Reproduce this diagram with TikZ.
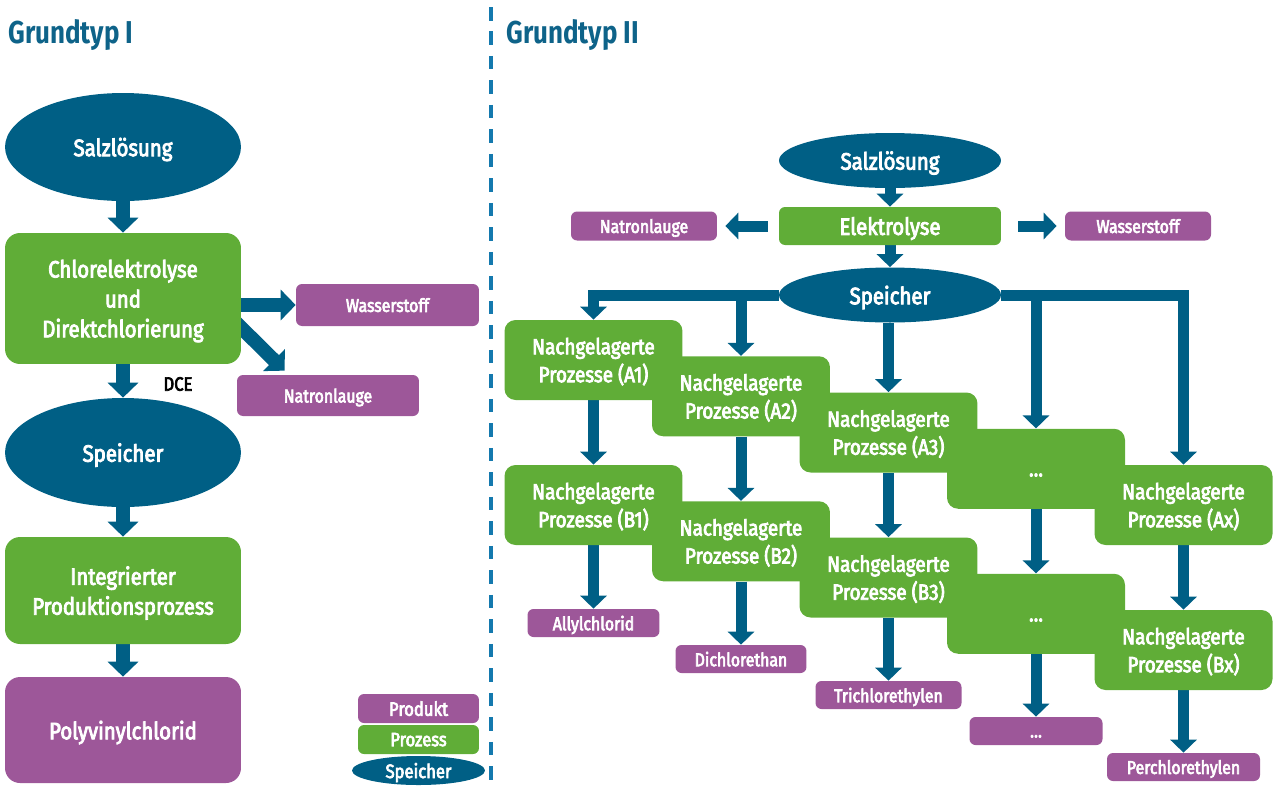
\documentclass[tikz,border=0pt]{standalone}
\usepackage{fontspec}
\setmainfont[FakeStretch=0.82]{Fira Sans}
\newfontfamily\mediumfont[FakeStretch=0.86,FakeBold=3.5]{Fira Sans}
\usetikzlibrary{arrows.meta,shapes.geometric,backgrounds}
\definecolor{petrol}{RGB}{0,95,133}
\definecolor{grass}{RGB}{96,173,55}
\definecolor{plum}{RGB}{157,87,153}
\definecolor{heading}{RGB}{14,99,137}
\definecolor{divider}{RGB}{20,121,174}
\tikzset{
  flow/.style={draw=petrol,line width=0.22cm,line join=miter,
    -{Triangle[width=0.52cm,length=0.26cm]}},
  fat flow/.style={flow,line width=0.28cm,-{Triangle[width=0.6cm,length=0.3cm]}},
  title/.style={font=\fontsize{18}{22}\selectfont\bfseries,text=heading,inner sep=0pt},
  store/.style={ellipse,fill=petrol,text=white,inner sep=0pt,text depth=0pt,
    font=\fontsize{13.5}{17}\selectfont\mediumfont},
  proc/.style={fill=grass,text=white,rounded corners=0.3cm,align=center,text depth=0pt,
    minimum width=4.72cm,font=\fontsize{13.5}{17}\selectfont\mediumfont},
  stepbox/.style={fill=grass,text=white,rounded corners=0.22cm,align=center,text depth=0pt,
    minimum width=3.56cm,minimum height=1.6cm,font=\fontsize{12.5}{15.9}\selectfont\mediumfont},
  prod/.style={fill=plum,text=white,rounded corners=0.12cm,inner sep=0pt,text depth=0pt,
    font=\fontsize{10.5}{12}\selectfont\mediumfont},
  key/.style={prod,minimum width=2.42cm,minimum height=0.58cm,
    font=\fontsize{11}{12}\selectfont\mediumfont},
}
\newcommand\etc{\vphantom{N}…}
\begin{document}
\begin{tikzpicture}[x=0.02cm,y=-0.02cm]
  \useasboundingbox (0,0) rectangle (1277,785);
  % headings and divider
  \node[title,anchor=west] (g1) at (8,35) {Grundtyp I};
  \node[title,anchor=west] (g2) at (506,35) {Grundtyp II};
  \draw[divider,line width=0.08cm,dash pattern=on 0.27cm off 0.22cm] (491,7) -- (491,785);

  % Grundtyp I
  \node[store,minimum width=4.72cm,minimum height=2.16cm] (salz1) at (123,147) {Salzlösung};
  \node[proc,minimum height=2.62cm] (chlor) at (123,298.5) {Chlorelektrolyse\\und\\Direktchlorierung};
  \node[prod,minimum width=3.66cm,minimum height=0.84cm] (wasser1) at (387.5,305) {Wasserstoff};
  \node[prod,minimum width=3.64cm,minimum height=0.82cm] (natron1) at (328,395.5) {Natronlauge};
  \node[font=\fontsize{11}{12}\selectfont\mediumfont,inner sep=0pt] (dce) at (178,384) {DCE};
  \node[store,minimum width=4.72cm,minimum height=2.18cm] (speicher1) at (123,452.5) {Speicher};
  \node[proc,minimum height=2.14cm] (ipp) at (123,590.5) {Integrierter\\Produktionsprozess};
  \node[proc,fill=plum,minimum height=2.12cm] (pvc) at (123,730) {Polyvinylchlorid};

  % legend
  \node[key] (lgprod) at (418.5,708.5) {Produkt};
  \node[key,fill=grass] (lgproc) at (418.5,739.5) {Prozess};
  \node[store,minimum width=2.66cm,minimum height=0.58cm,
    font=\fontsize{11}{12}\selectfont\mediumfont] (lgstore) at (418.5,770.5) {Speicher};

  % Grundtyp II
  \node[store,minimum width=4.44cm,minimum height=1.1cm] (salz2) at (890,160.5) {Salzlösung};
  \node[proc,minimum width=4.44cm,minimum height=0.76cm,rounded corners=0.12cm] (elektro) at (890,226) {Elektrolyse};
  \node[prod,minimum width=2.92cm,minimum height=0.58cm] (natron2) at (644,226) {Natronlauge};
  \node[prod,minimum width=2.92cm,minimum height=0.58cm] (wasser2) at (1138,226) {Wasserstoff};
  \node[store,minimum width=4.44cm,minimum height=1.1cm] (speicher2) at (890,295) {Speicher};

  \foreach \i/\ta/\tb/\pt/\pw in {
    0/{Nachgelagerte\\Prozesse (A1)}/{Nachgelagerte\\Prozesse (B1)}/Allylchlorid/2.64,
    1/{Nachgelagerte\\Prozesse (A2)}/{Nachgelagerte\\Prozesse (B2)}/Dichlorethan/2.62,
    2/{Nachgelagerte\\Prozesse (A3)}/{Nachgelagerte\\Prozesse (B3)}/Trichlorethylen/2.92,
    3/{\etc}/{\etc}/{\etc}/2.66,
    4/{Nachgelagerte\\Prozesse (Ax)}/{Nachgelagerte\\Prozesse (Bx)}/Perchlorethylen/3.06}
  {
    \node[stepbox] (a\i) at (593.5+147.5*\i,360+36.25*\i) {\ta};
    \node[stepbox] (b\i) at (593.5+147.5*\i,505+36.25*\i) {\tb};
    \node[prod,minimum width=\pw cm,minimum height=0.56cm] (p\i) at (593.5+147.5*\i,623+36*\i) {\pt};
  }

  % connectors
  \begin{scope}[on background layer]
    \draw[fat flow] (salz1) -- (chlor);
    \draw[fat flow] (chlor.east |- wasser1) -- (wasser1);
    \draw[fat flow] ([xshift=-0.3cm,yshift=-0.29cm]chlor.east) -- ([xshift=0.96cm,yshift=0.08cm]natron1.north west);
    \draw[fat flow] (chlor) -- (speicher1);
    \draw[fat flow] (speicher1) -- (ipp);
    \draw[fat flow] (ipp) -- (pvc);

    \draw[flow] (salz2) -- (elektro);
    \draw[flow,shorten <=0.22cm,shorten >=0.16cm] (elektro) -- (natron2);
    \draw[flow,shorten <=0.34cm,shorten >=0.16cm] (elektro) -- (wasser2);
    \draw[flow] (elektro) -- (speicher2);
    \draw[flow] (speicher2) -| (a0);
    \draw[flow] (speicher2) -| (a4);
    \draw[flow] (a1 |- speicher2) -- (a1);
    \draw[flow] (a3 |- speicher2) -- (a3);
    \draw[flow] (speicher2.south -| a2) -- (a2);
    \foreach \i in {0,...,4} {
      \draw[flow] (a\i) -- (b\i);
      \draw[flow] (b\i) -- (p\i);
    }
  \end{scope}
\end{tikzpicture}
\end{document}
